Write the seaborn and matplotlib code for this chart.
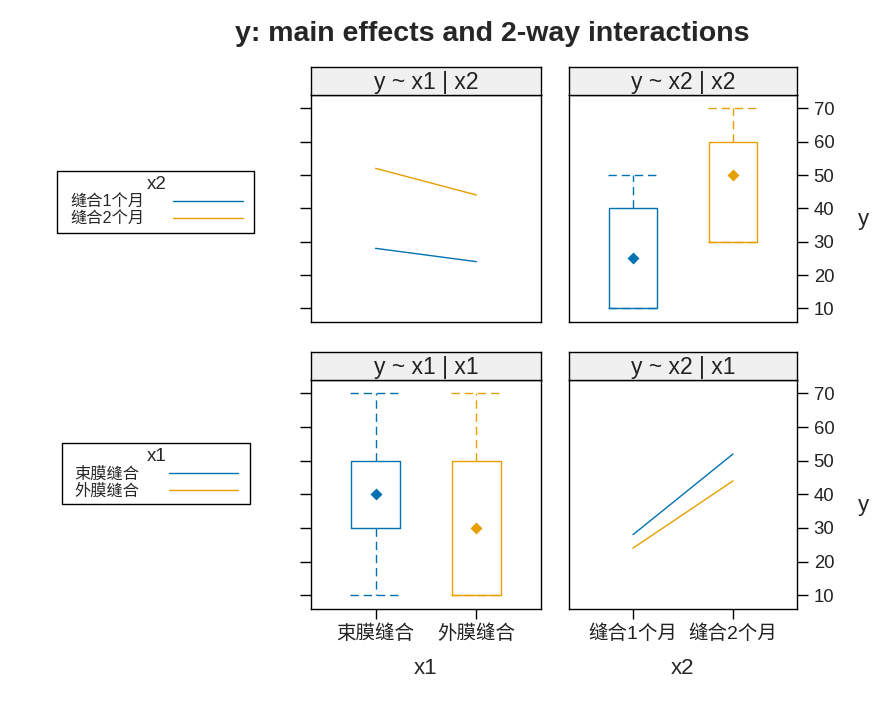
import pandas as pd
import matplotlib.pyplot as plt
import seaborn as sns
from matplotlib.patches import Rectangle

# levels of the two factors
x1_levels = ["束膜缝合", "外膜缝合"]
x2_levels = ["缝合1个月", "缝合2个月"]

# cell means of y (interaction panels)
cell_x1 = ["束膜缝合", "外膜缝合", "束膜缝合", "外膜缝合"]
cell_x2 = ["缝合1个月", "缝合1个月", "缝合2个月", "缝合2个月"]
cell_y = [28, 24, 52, 44]

# box summaries: min, lower hinge, median, upper hinge, max
box_x2_m1 = [10, 10, 25, 40, 50]
box_x2_m2 = [30, 30, 50, 60, 70]
box_x1_a = [10, 30, 40, 50, 70]
box_x1_b = [10, 10, 30, 50, 70]

y_ticks = [10, 20, 30, 40, 50, 60, 70]
colors = ["#0072B2", "#E69F00"]

means = pd.DataFrame({"x1": cell_x1, "x2": cell_x2, "y": cell_y})
by_x2 = pd.DataFrame({"x2": [x2_levels[0]] * 5 + [x2_levels[1]] * 5,
                      "y": box_x2_m1 + box_x2_m2})
by_x1 = pd.DataFrame({"x1": [x1_levels[0]] * 5 + [x1_levels[1]] * 5,
                      "y": box_x1_a + box_x1_b})

sns.set_style("white")
plt.rcParams["font.family"] = ["Liberation Sans", "Noto Sans CJK SC"]
plt.rcParams["axes.edgecolor"] = "black"
plt.rcParams["axes.linewidth"] = 1.0

W, H = 895, 707
fig = plt.figure(figsize=(W / 100, H / 100), dpi=100)


def fig_axes(x0, y0, x1, y1):
    # pixel box (top-left origin) -> figure axes
    return fig.add_axes([x0 / W, 1 - y1 / H, (x1 - x0) / W, (y1 - y0) / H])


dash = (0, (6, 3.5))


def box_panel(ax, df, var, levels):
    sns.boxplot(data=df, x=var, y="y", hue=var, order=levels, hue_order=levels,
                palette=colors, fill=False, width=0.48, whis=(0, 100),
                linewidth=1, medianprops={"visible": False},
                whiskerprops={"linestyle": dash}, capprops={"linestyle": dash},
                capwidths=0.5, legend=False, ax=ax)
    sns.pointplot(data=df, x=var, y="y", hue=var, order=levels, hue_order=levels,
                  palette=colors, estimator="median", errorbar=None, markers="D",
                  markersize=4.3, linestyles="none", legend=False, ax=ax)


def line_panel(ax, x, hue, xorder, horder):
    sns.pointplot(data=means, x=x, y="y", hue=hue, order=xorder, hue_order=horder,
                  palette=colors, errorbar=None, markers="", linewidth=1, ax=ax)
    h, l = ax.get_legend_handles_labels()
    ax.get_legend().remove()
    return h, l


panels = {
    "tl": (311, 95, 541, 322, "y ~ x1 | x2"),
    "tr": (569, 95, 797, 322, "y ~ x2 | x2"),
    "bl": (311, 380, 541, 609, "y ~ x1 | x1"),
    "br": (569, 380, 797, 609, "y ~ x2 | x1"),
}
axes = {}
for key, (x0, y0, x1, y1, title) in panels.items():
    ax = fig_axes(x0, y0, x1, y1)
    axes[key] = ax
    strip = fig_axes(x0, y0 - 28, x1, y0)
    strip.set_facecolor("#f0f0f0")
    strip.set_xticks([])
    strip.set_yticks([])
    strip.text(0.5, 0.45, title, ha="center", va="center", fontsize=16.5,
               color="#222222", transform=strip.transAxes)

h2, l2 = line_panel(axes["tl"], "x1", "x2", x1_levels, x2_levels)
box_panel(axes["tr"], by_x2, "x2", x2_levels)
box_panel(axes["bl"], by_x1, "x1", x1_levels)
h1, l1 = line_panel(axes["br"], "x2", "x1", x2_levels, x1_levels)

for key, ax in axes.items():
    ax.set_xlim(-0.64, 1.64)
    ax.set_ylim(5.9, 74)
    ax.set_yticks(y_ticks)
    ax.set_xlabel("")
    ax.set_ylabel("")
    right = key in ("tr", "br")
    bottom = key in ("bl", "br")
    ax.tick_params(axis="y", left=not right, labelleft=False, right=right,
                   labelright=right, direction="out", length=8, width=1,
                   pad=4, labelsize=13.3, colors="black", labelcolor="#222222")
    ax.tick_params(axis="x", bottom=bottom, labelbottom=bottom, top=False,
                   direction="out", length=7, width=1, pad=4, labelsize=14,
                   colors="black", labelcolor="#222222")
    for s in ax.spines.values():
        s.set_color("black")
        s.set_linewidth(1)

fig.text(492 / W, 1 - 34 / H, "y: main effects and 2-way interactions",
         ha="center", va="center", fontsize=20.5, fontweight="bold")
fig.text(863 / W, 1 - 220 / H, "y", ha="center", va="center", fontsize=16)
fig.text(863 / W, 1 - 505 / H, "y", ha="center", va="center", fontsize=16)
fig.text(426 / W, 1 - 668 / H, "x1", ha="center", va="center", fontsize=16)
fig.text(683 / W, 1 - 668 / H, "x2", ha="center", va="center", fontsize=16)

# legends: (handles, labels, title, content centre, frame box in pixels)
legend_specs = [
    (h2, l2, "x2", (156.7, 201.5), (57, 171, 254, 232.5)),
    (h1, l1, "x1", (156.4, 473.5), (62, 443, 250, 504)),
]
for handles, labels, title, (cx, cy), (fx0, fy0, fx1, fy1) in legend_specs:
    fig.legend(handles, labels, title=title, loc="center",
               bbox_to_anchor=(cx / W, 1 - cy / H), frameon=False,
               fontsize=11.7, title_fontsize=13.5, markerfirst=False,
               handlelength=4.3, handletextpad=1.8, labelspacing=0.1,
               borderpad=0.4, borderaxespad=0)
    fig.patches.append(Rectangle((fx0 / W, 1 - fy1 / H), (fx1 - fx0) / W,
                                 (fy1 - fy0) / H, transform=fig.transFigure,
                                 fill=False, edgecolor="black", linewidth=1))

fig.savefig("out.png", dpi=100)
